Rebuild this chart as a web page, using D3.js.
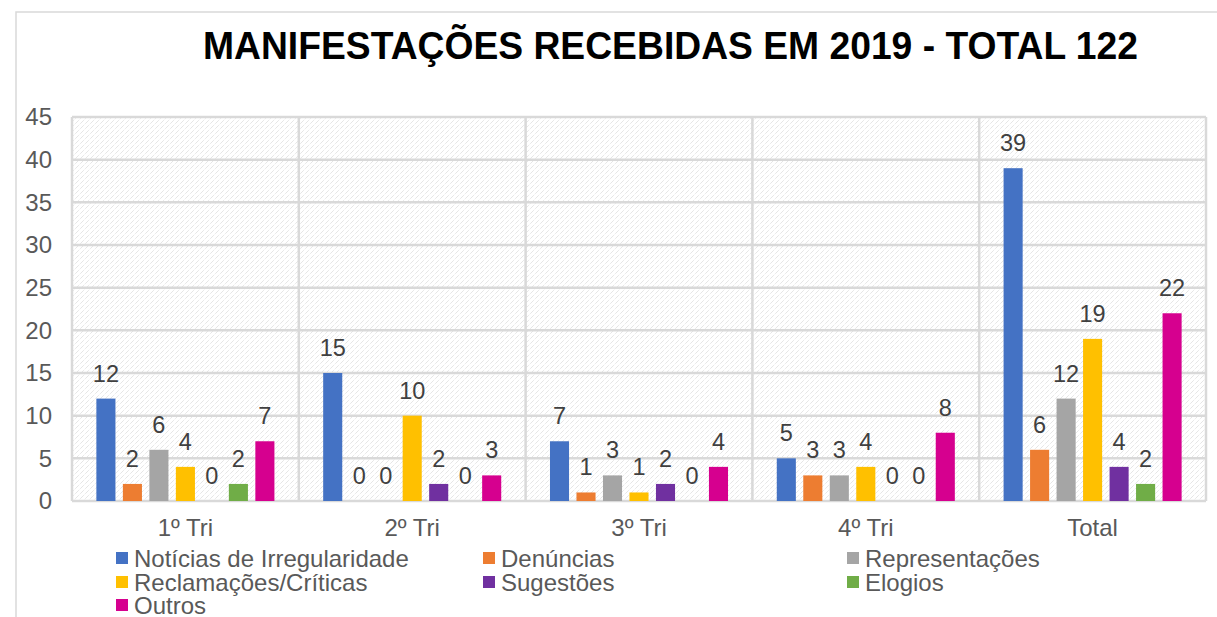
<!DOCTYPE html>
<html>
<head>
<meta charset="utf-8">
<script src="https://cdn.jsdelivr.net/npm/d3@7"></script>
<style>
  body { margin: 0; background: #fff; }
  text { font-family: "Liberation Sans", Arial, sans-serif; }
</style>
</head>
<body>
<div id="chart"></div>
<script>
// data
var categories = ["1º Tri", "2º Tri", "3º Tri", "4º Tri", "Total"];
var seriesNames = ["Notícias de Irregularidade", "Denúncias", "Representações",
                   "Reclamações/Críticas", "Sugestões", "Elogios", "Outros"];
var noticias = [12, 15, 7, 5, 39];
var denuncias = [2, 0, 1, 3, 6];
var representacoes = [6, 0, 3, 3, 12];
var reclamacoes = [4, 10, 1, 4, 19];
var sugestoes = [0, 2, 2, 0, 4];
var elogios = [2, 0, 0, 0, 2];
var outros = [7, 3, 4, 8, 22];
var yTicks = [0, 5, 10, 15, 20, 25, 30, 35, 40, 45];
var colors = ["#4472C4", "#ED7D31", "#A5A5A5", "#FFC000", "#7030A0", "#70AD47", "#D6008F"];

var seriesValues = [noticias, denuncias, representacoes, reclamacoes, sugestoes, elogios, outros];

var W = 1217, H = 617;
var margin = {top: 117, right: 11, bottom: 116, left: 72},
    width = W - margin.left - margin.right,
    height = H - margin.top - margin.bottom;

var svg = d3.select("#chart")
  .append("svg")
    .attr("width", W)
    .attr("height", H);

// background dotted hatch used by the plot area
var defs = svg.append("defs");
var pat = defs.append("pattern")
    .attr("id", "hatch")
    .attr("patternUnits", "userSpaceOnUse")
    .attr("width", 5)
    .attr("height", 5);
pat.append("rect").attr("width", 5).attr("height", 5).attr("fill", "#fff");
pat.append("path")
    .attr("d", "M0,5 L5,0 M-1,1 L1,-1 M4,6 L6,4")
    .attr("stroke", "#d6d6d6")
    .attr("stroke-width", 0.9)
    .attr("stroke-dasharray", "1 1");

// outer chart border (cropped on right/bottom)
svg.append("rect")
    .attr("x", 16).attr("y", 12)
    .attr("width", W + 20).attr("height", H + 20)
    .attr("fill", "none")
    .attr("stroke", "#d9d9d9")
    .attr("stroke-width", 1.5);

// title
svg.append("text")
    .attr("x", 203)
    .attr("y", 59)
    .attr("textLength", 935)
    .attr("lengthAdjust", "spacingAndGlyphs")
    .attr("font-size", "39px")
    .attr("font-weight", "bold")
    .attr("fill", "#000")
    .text("MANIFESTAÇÕES RECEBIDAS EM 2019 - TOTAL 122");

var g = svg.append("g")
    .attr("transform", "translate(" + margin.left + "," + margin.top + ")");

var x0 = d3.scaleBand()
    .domain(categories)
    .range([0, width])
    .padding(0);

var x1 = d3.scaleBand()
    .domain(seriesNames)
    .range([0, x0.bandwidth()])
    .paddingInner(0.28)
    .paddingOuter(0.92);

var y = d3.scaleLinear()
    .domain([0, 45])
    .range([height, 0]);

// plot background
g.append("rect")
    .attr("width", width)
    .attr("height", height)
    .attr("fill", "url(#hatch)");

// horizontal gridlines
g.append("g")
  .selectAll("line")
  .data(yTicks)
  .enter()
  .append("line")
    .attr("x1", 0)
    .attr("x2", width)
    .attr("y1", d => y(d))
    .attr("y2", d => y(d))
    .attr("stroke", "#d9d9d9")
    .attr("stroke-width", 2.5);

// vertical category separators
var bounds = categories.map(c => x0(c)).concat([width]);
g.append("g")
  .selectAll("line")
  .data(bounds)
  .enter()
  .append("line")
    .attr("x1", d => d)
    .attr("x2", d => d)
    .attr("y1", 0)
    .attr("y2", height)
    .attr("stroke", "#d9d9d9")
    .attr("stroke-width", 2.5);

// y axis labels
var y_axis = d3.axisLeft(y).tickValues(yTicks).tickSize(0).tickPadding(20);
var yAx = g.append("g").call(y_axis);
yAx.select(".domain").remove();
yAx.selectAll("text")
    .attr("font-size", "24px")
    .attr("font-family", "Liberation Sans, Arial, sans-serif")
    .attr("fill", "#595959");

// x axis labels
var x_axis = d3.axisBottom(x0).tickSize(0).tickPadding(18);
var xAx = g.append("g")
    .attr("transform", "translate(0," + height + ")")
    .call(x_axis);
xAx.select(".domain").remove();
xAx.selectAll("text")
    .attr("font-size", "24px")
    .attr("font-family", "Liberation Sans, Arial, sans-serif")
    .attr("fill", "#595959");

// bars
var rows = [];
categories.forEach(function(c, ci) {
  seriesNames.forEach(function(s, si) {
    rows.push({cat: c, series: s, value: seriesValues[si][ci], color: colors[si]});
  });
});

g.append("g")
  .selectAll("rect")
  .data(rows)
  .enter()
  .append("rect")
    .attr("x", d => x0(d.cat) + x1(d.series))
    .attr("y", d => y(d.value))
    .attr("width", x1.bandwidth())
    .attr("height", d => height - y(d.value))
    .attr("fill", d => d.color);

// value labels
g.append("g")
  .selectAll("text")
  .data(rows)
  .enter()
  .append("text")
    .attr("x", d => x0(d.cat) + x1(d.series) + x1.bandwidth() / 2)
    .attr("y", d => y(d.value) - 17)
    .attr("text-anchor", "middle")
    .attr("font-size", "23.5px")
    .attr("fill", "#404040")
    .text(d => d.value);

// legend
var legendX = [116, 483, 847];
var legendY = [558, 582, 605];
var legend = svg.append("g")
  .selectAll("g")
  .data(seriesNames)
  .enter()
  .append("g")
    .attr("transform", (d, i) => "translate(" + legendX[i % 3] + "," + legendY[Math.floor(i / 3)] + ")");
legend.append("rect")
    .attr("x", 0)
    .attr("y", -6)
    .attr("width", 12)
    .attr("height", 12)
    .attr("fill", (d, i) => colors[i]);
legend.append("text")
    .attr("x", 18)
    .attr("y", 8.5)
    .attr("font-size", "24px")
    .attr("fill", "#595959")
    .text(d => d);
</script>
</body>
</html>
